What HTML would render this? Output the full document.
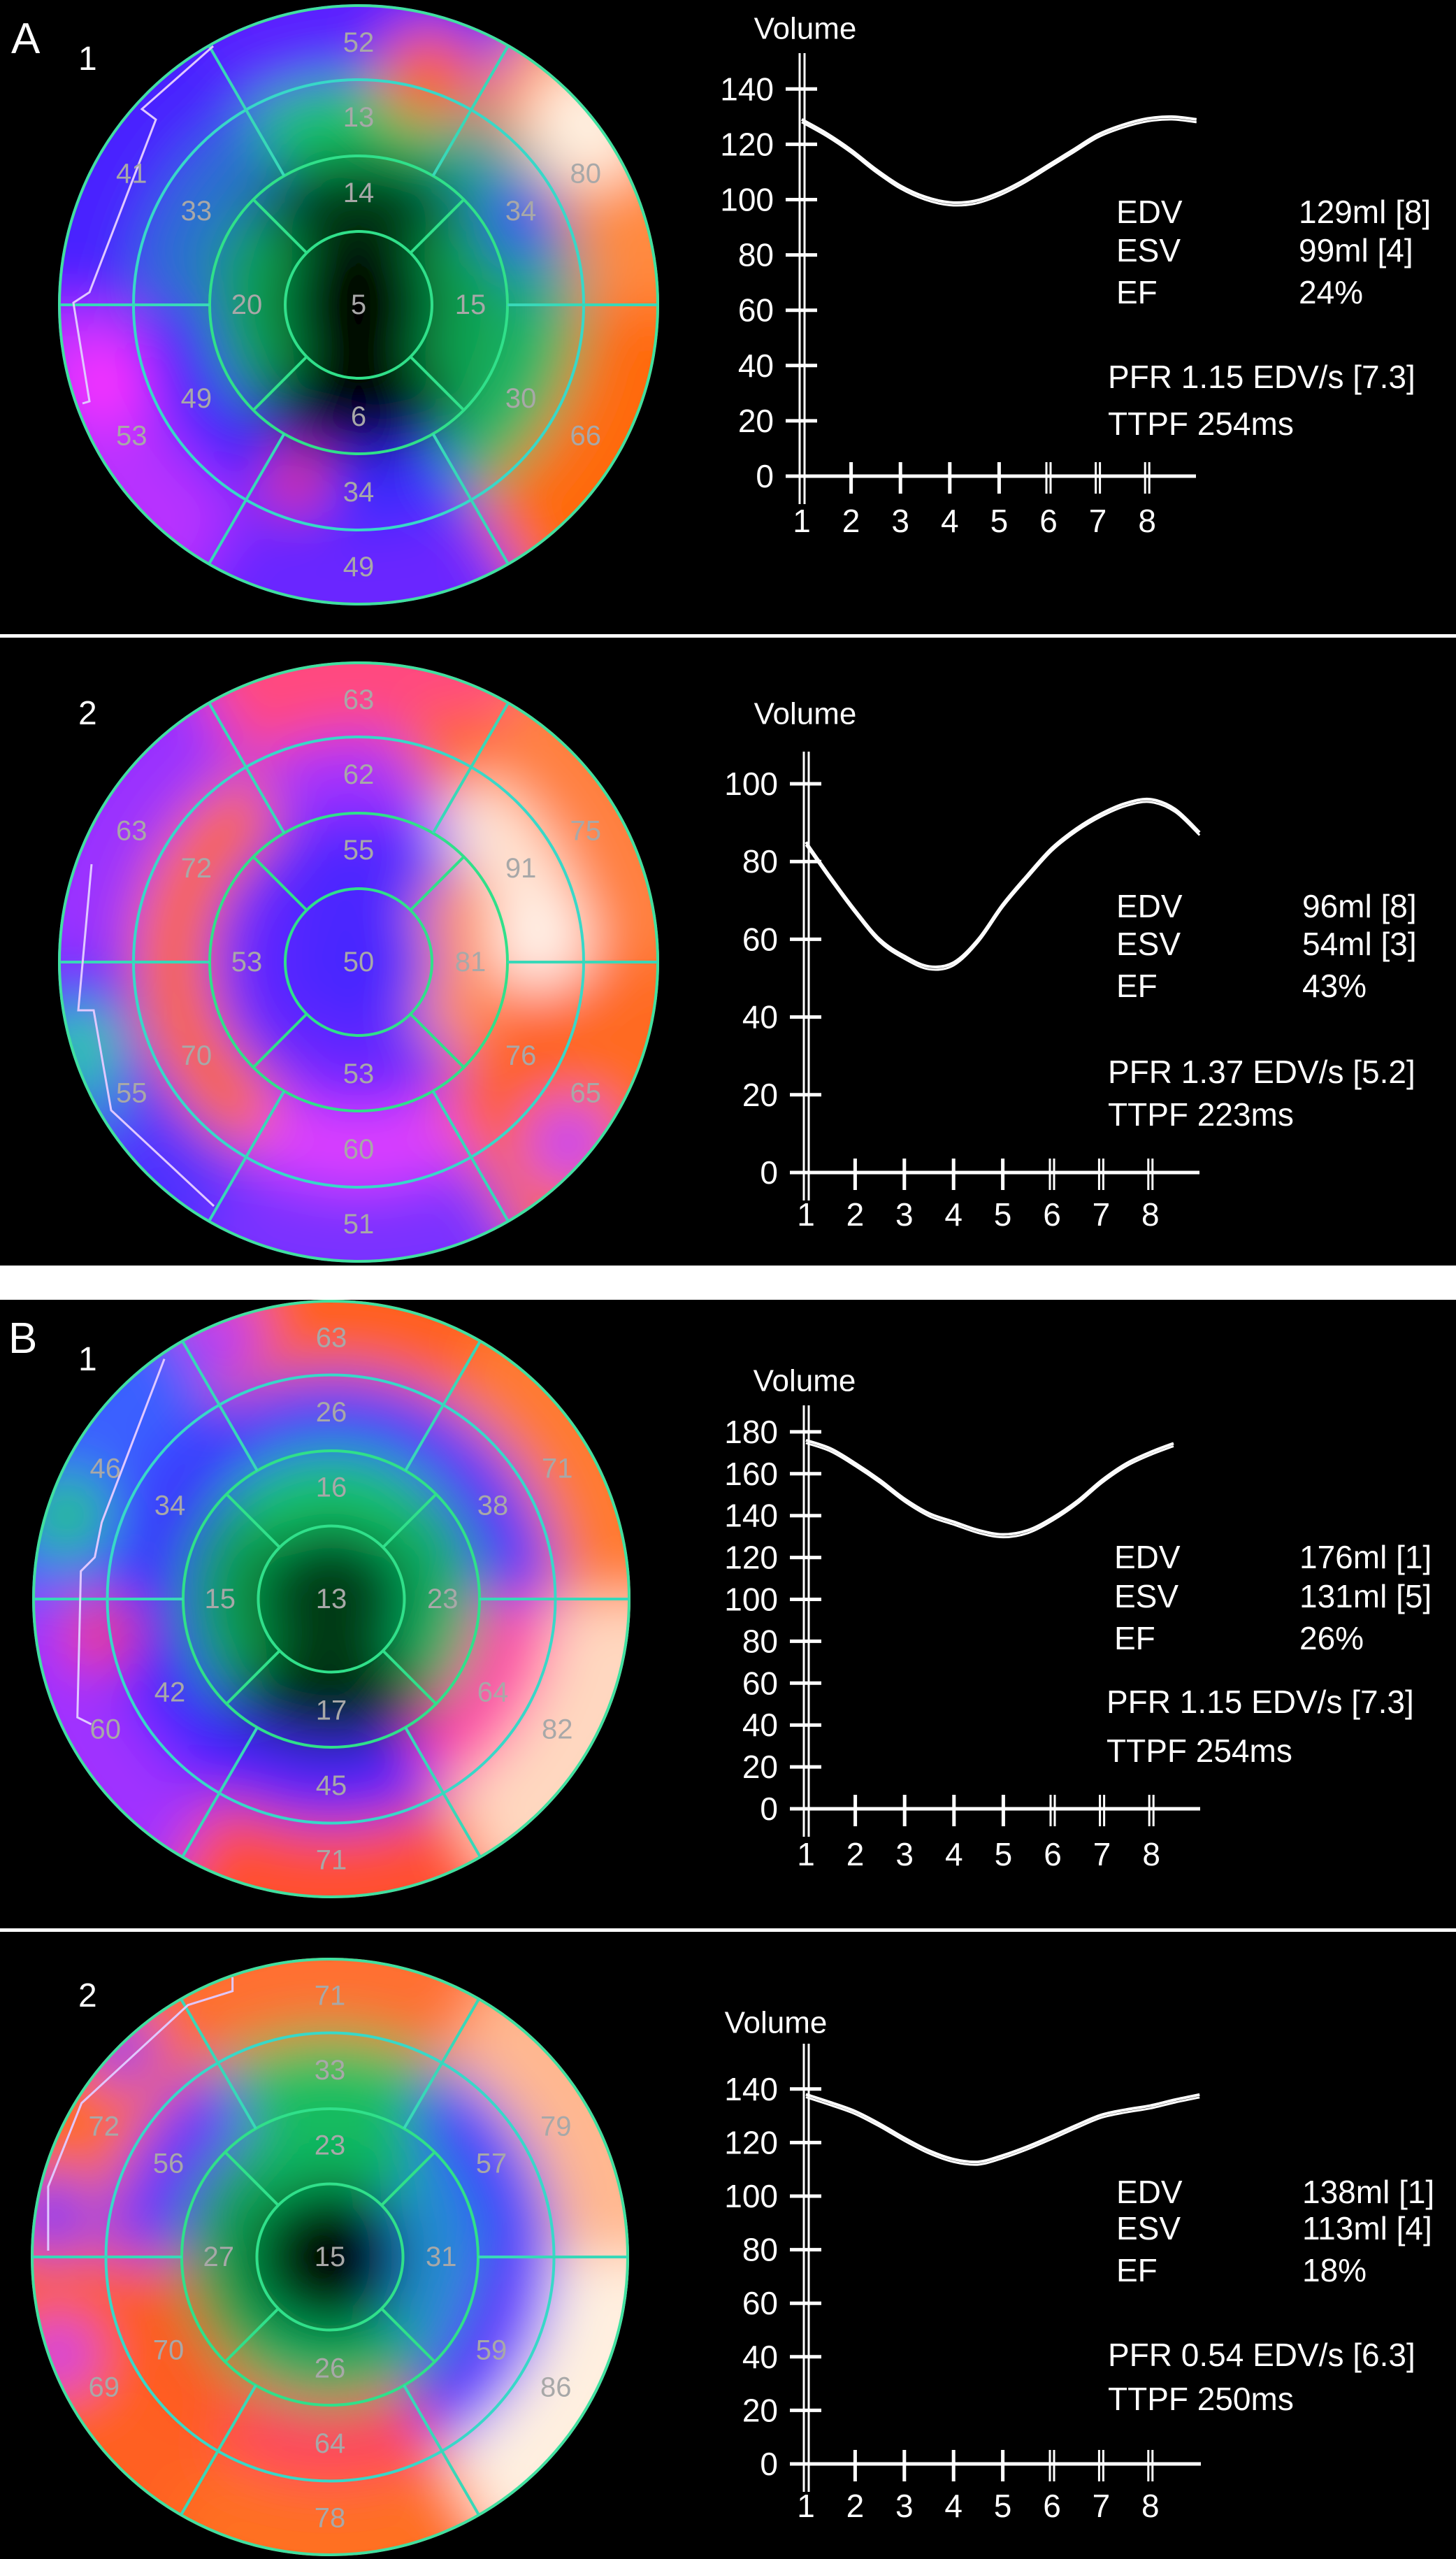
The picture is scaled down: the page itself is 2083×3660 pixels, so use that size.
<!DOCTYPE html>
<html><head><meta charset="utf-8">
<style>
html,body{margin:0;padding:0;background:#fff;}
svg{display:block;}
text{font-family:"Liberation Sans",sans-serif;}
</style></head>
<body>
<svg id="fig" xmlns="http://www.w3.org/2000/svg" width="2083" height="3660" viewBox="0 0 2083 3660">
<defs>
<filter id="blur" x="-20%" y="-20%" width="140%" height="140%"><feGaussianBlur stdDeviation="40"/></filter>
</defs>
<rect x="0" y="0" width="2083" height="907" fill="#000"/>
<rect x="0" y="912" width="2083" height="898" fill="#000"/>
<rect x="0" y="1859" width="2083" height="899" fill="#000"/>
<rect x="0" y="2763" width="2083" height="897" fill="#000"/>
<text x="16" y="76" font-size="62" fill="#fff">A</text>
<text x="112" y="100" font-size="48" fill="#fff">1</text>
<text x="112" y="1036" font-size="48" fill="#fff">2</text>
<text x="12" y="1935" font-size="62" fill="#fff">B</text>
<text x="112" y="1960" font-size="48" fill="#fff">1</text>
<text x="112" y="2870" font-size="48" fill="#fff">2</text>
<g id="content"></g>
</svg>
<script>
// ---------- chart data ----------
const a1X = [1,1.5,2,2.5,3,3.5,4,4.5,5,5.5,6,6.5,7,7.5,8,8.5,9];
const a1Vol = [129,124,118,111,105,101,99,99.5,102.5,107,112.5,118,123.5,127,129.3,130,129];
const a1YTicks = [0,20,40,60,80,100,120,140];
const a1Stats = ["129ml [8]","99ml [4]","24%"];
const a1Pfr = "PFR 1.15 EDV/s [7.3]";
const a1Ttpf = "TTPF 254ms";

const a2X = [1,1.5,2,2.5,3,3.5,4,4.5,5,5.5,6,6.5,7,7.5,8,8.5,9];
const a2Vol = [85,76,67.5,60,55.7,53,54,60,69,76.5,83.5,88.5,92.3,95,96,93.5,87.5];
const a2YTicks = [0,20,40,60,80,100];
const a2Stats = ["96ml [8]","54ml [3]","43%"];
const a2Pfr = "PFR 1.37 EDV/s [5.2]";
const a2Ttpf = "TTPF 223ms";

const b1X = [1,1.5,2,2.5,3,3.5,4,4.5,5,5.5,6,6.5,7,7.5,8,8.45];
const b1Vol = [176,172,165,157,148,141,137,133,131,133,139,147,157,165,170.5,174.5];
const b1YTicks = [0,20,40,60,80,100,120,140,160,180];
const b1Stats = ["176ml [1]","131ml [5]","26%"];
const b1Pfr = "PFR 1.15 EDV/s [7.3]";
const b1Ttpf = "TTPF 254ms";

const b2X = [1,1.5,2,2.5,3,3.5,4,4.5,5,5.5,6,6.5,7,7.5,8,8.5,9];
const b2Vol = [138,135,131.7,127,121.7,117,113.8,112.8,115.2,118.5,122.4,126.5,130.3,132.3,133.8,136,137.9];
const b2YTicks = [0,20,40,60,80,100,120,140];
const b2Stats = ["138ml [1]","113ml [4]","18%"];
const b2Pfr = "PFR 0.54 EDV/s [6.3]";
const b2Ttpf = "TTPF 250ms";

const xTickLabels = ["1","2","3","4","5","6","7","8"];
const statNames = ["EDV","ESV","EF"];

// ---------- bullseye data (outer/mid: top, UR, LR, bottom, LL, UL; apical: top,right,bottom,left) ----------
const a1Outer = ["52","80","66","49","53","41"];
const a1Mid = ["13","34","30","34","49","33"];
const a1Apical = ["14","15","6","20"];
const a1Apex = "5";
const a2Outer = ["63","75","65","51","55","63"];
const a2Mid = ["62","91","76","60","70","72"];
const a2Apical = ["55","81","53","53"];
const a2Apex = "50";
const b1Outer = ["63","71","82","71","60","46"];
const b1Mid = ["26","38","64","45","42","34"];
const b1Apical = ["16","23","17","15"];
const b1Apex = "13";
const b2Outer = ["71","79","86","78","69","72"];
const b2Mid = ["33","57","59","64","70","56"];
const b2Apical = ["23","31","26","27"];
const b2Apex = "15";

const NS = "http://www.w3.org/2000/svg";
const root = document.getElementById('content');
function mk(tag, attrs, parent){
  const e = document.createElementNS(NS, tag);
  for (const k in attrs) e.setAttribute(k, attrs[k]);
  (parent||root).appendChild(e);
  return e;
}
function rad(d){return d*Math.PI/180;}
function sector(cx,cy,r1,r2,a1,a2){
  const p=(r,a)=>[cx+r*Math.cos(rad(a)),cy+r*Math.sin(rad(a))];
  const [x1,y1]=p(r2,a1),[x2,y2]=p(r2,a2),[x3,y3]=p(r1,a2),[x4,y4]=p(r1,a1);
  const lg=(a2-a1)>180?1:0;
  return `M${x1},${y1} A${r2},${r2} 0 ${lg} 1 ${x2},${y2} L${x3},${y3} A${r1},${r1} 0 ${lg} 0 ${x4},${y4} Z`;
}

function bullseye(id, cx, cy, R, outer, mid, apical, apex, cols, blobs, marker){
  const s = R/430;
  const rA = 105*s, rB = 213*s, rC = 322*s;
  const g = mk('g',{});
  
  
  const clipId = id+'clip';
  const cp = mk('clipPath',{id:clipId}, g);
  mk('circle',{cx:cx,cy:cy,r:R}, cp);
  const cg = mk('g',{'clip-path':`url(#${clipId})`}, g);
  const bg = mk('g',{filter:'url(#blur)'}, cg);
  for (let i=0;i<6;i++){
    const a = -90+60*i;
    mk('path',{d:sector(cx,cy,rC,R+90,a-30,a+30),fill:cols.outer[i]}, bg);
    mk('path',{d:sector(cx,cy,rB,rC,a-30,a+30),fill:cols.mid[i]}, bg);
  }
  for (let i=0;i<4;i++){
    const a = -90+90*i;
    mk('path',{d:sector(cx,cy,rA,rB,a-45,a+45),fill:cols.apical[i]}, bg);
  }
  mk('circle',{cx:cx,cy:cy,r:rA,fill:cols.apex}, bg);
  blobs.forEach(b=>mk('circle',{cx:cx+b[0]*s,cy:cy+b[1]*s,r:b[2]*s,fill:b[3]}, bg));
  const lg = mk('g',{fill:'none','stroke-width':4}, g);
  mk('circle',{cx:cx,cy:cy,r:R-2,stroke:'#40e0a0'}, lg);
  mk('circle',{cx:cx,cy:cy,r:rC,stroke:'#38d8c8'}, lg);
  mk('circle',{cx:cx,cy:cy,r:rB,stroke:'#30e08a'}, lg);
  mk('circle',{cx:cx,cy:cy,r:rA,stroke:'#30e08a'}, lg);
  for (let i=0;i<6;i++){
    const a=rad(60*i);
    mk('line',{x1:cx+rB*Math.cos(a),y1:cy+rB*Math.sin(a),x2:cx+(R-2)*Math.cos(a),y2:cy+(R-2)*Math.sin(a),stroke:'#38d8b8'}, lg);
  }
  for (let i=0;i<4;i++){
    const a=rad(45+90*i);
    mk('line',{x1:cx+rA*Math.cos(a),y1:cy+rA*Math.sin(a),x2:cx+rB*Math.cos(a),y2:cy+rB*Math.sin(a),stroke:'#30e08a'}, lg);
  }
  if (marker){
    const m = mk('polyline',{points:marker.map(p=>(cx+p[0]*s)+','+(cy+p[1]*s)).join(' '),stroke:'#e0c8ff','stroke-width':3,fill:'none'}, g);
    
    
  }
  const tg = mk('g',{'font-size':Math.round(40*s),fill:'#a8a8a8','text-anchor':'middle','dominant-baseline':'central'}, g);
  function lab(txt,r,a,name){
    const t = mk('text',{x:cx+r*Math.cos(rad(a)),y:cy+r*Math.sin(rad(a))}, tg);
    
    
    t.textContent = txt;
  }
  outer.forEach((v,i)=>lab(v,375*s,-90+60*i,id+'-basal-segment-'+(i+1)));
  mid.forEach((v,i)=>lab(v,268*s,-90+60*i,id+'-mid-segment-'+(i+1)));
  apical.forEach((v,i)=>lab(v,160*s,-90+90*i,id+'-apical-segment-'+(i+1)));
  lab(apex,0,0,id+'-apex-segment');
}

function volChart(id, cfg, xs, vals, yTicks, stats, pfr, ttpf){
  const g = mk('g',{stroke:'#fff',fill:'#fff'});
  
  
  const X = v => cfg.ax + (v-1)*cfg.xs;
  const Y = v => cfg.y0 - v*cfg.ys;
  mk('line',{x1:cfg.ax-3,y1:cfg.top,x2:cfg.ax-3,y2:cfg.y0+40,'stroke-width':3}, g);
  mk('line',{x1:cfg.ax+4,y1:cfg.top,x2:cfg.ax+4,y2:cfg.y0+40,'stroke-width':3}, g);
  mk('line',{x1:cfg.ax-22,y1:cfg.y0,x2:cfg.xend,y2:cfg.y0,'stroke-width':5}, g);
  const tg = mk('g',{stroke:'none','font-size':46}, g);
  yTicks.forEach(v=>{
    const tk = mk('line',{x1:cfg.ax-23,y1:Y(v),x2:cfg.ax+22,y2:Y(v),'stroke-width':5}, g);
    
    
    const t = mk('text',{x:cfg.ax-40,y:Y(v),'text-anchor':'end','dominant-baseline':'central'}, tg);
    
    
    t.textContent = v;
  });
  xTickLabels.forEach((lbl,i)=>{
    const x = X(i+1);
    if (i>0){
      if (i>=5){
        mk('line',{x1:x-3,y1:cfg.y0-20,x2:x-3,y2:cfg.y0+25,'stroke-width':3}, g);
        mk('line',{x1:x+3,y1:cfg.y0-20,x2:x+3,y2:cfg.y0+25,'stroke-width':3}, g);
      } else {
        mk('line',{x1:x,y1:cfg.y0-20,x2:x,y2:cfg.y0+25,'stroke-width':5}, g);
      }
    }
    const t = mk('text',{x:x,y:cfg.tly,'text-anchor':'middle','dominant-baseline':'central'}, tg);
    
    
    t.textContent = lbl;
  });
  const vl = mk('text',{x:cfg.vx,y:cfg.vy,'text-anchor':'middle','dominant-baseline':'central','font-size':44}, tg);
  
  
  vl.textContent = 'Volume';
  const pts = xs.map((x,i)=>[X(x),Y(vals[i])]);
  let d = 'M'+pts[0][0]+','+pts[0][1];
  for (let i=1;i<pts.length;i++){
    const p0=pts[Math.max(0,i-2)],p1=pts[i-1],p2=pts[i],p3=pts[Math.min(pts.length-1,i+1)];
    const c1=[p1[0]+(p2[0]-p0[0])/6,p1[1]+(p2[1]-p0[1])/6];
    const c2=[p2[0]-(p3[0]-p1[0])/6,p2[1]-(p3[1]-p1[1])/6];
    d+=` C${c1[0]},${c1[1]} ${c2[0]},${c2[1]} ${p2[0]},${p2[1]}`;
  }
  const c1 = mk('path',{d:d,fill:'none','stroke-width':4}, g);
  
  
  const c2 = mk('path',{d:d,fill:'none','stroke-width':3,transform:'translate(0,4)'}, g);
  
  
  statNames.forEach((n,i)=>{
    const t1 = mk('text',{x:cfg.sx,y:cfg.sy[i],'dominant-baseline':'central'}, tg);
    
    
    t1.textContent = n;
    const t2 = mk('text',{x:cfg.vx2,y:cfg.sy[i],'dominant-baseline':'central'}, tg);
    
    
    t2.textContent = stats[i];
  });
  const tp = mk('text',{x:cfg.px,y:cfg.py,'dominant-baseline':'central'}, tg);
  
  
  tp.textContent = pfr;
  const tt = mk('text',{x:cfg.px,y:cfg.ty,'dominant-baseline':'central'}, tg);
  
  
  tt.textContent = ttpf;
}

// ---------- bullseyes ----------
bullseye('a1',513,436,430,a1Outer,a1Mid,a1Apical,a1Apex,{
  outer:['#5a22ff','#ff8a40','#ff6a10','#6a28ff','#b830ff','#4a22ff'],
  mid:['#12c468','#20a0a0','#20b868','#3a2cff','#4222ff','#2a70d0'],
  apical:['#063a14','#10a050','#000000','#10a050'],apex:'#000000'},
  [[330,-260,90,'#fff0e0'],[-90,255,40,'#ff3a20'],[100,-330,70,'#ff6020'],[-360,110,60,'#ff30ff'],[230,-120,50,'#3a30ff']],
  [[-208,-370],[-310,-280],[-290,-265],[-385,-18],[-408,-3],[-385,138],[-395,141]]);
bullseye('a2',513,1376,430,a2Outer,a2Mid,a2Apical,a2Apex,{
  outer:['#ff4a80','#ff8040','#ff6a20','#7a30ff','#5030ff','#9a30ff'],
  mid:['#a030ff','#ffe8d8','#ff6020','#e040ff','#ff6a10','#ff6a20'],
  apical:['#5028ff','#ff9060','#6a28ff','#6028ff'],apex:'#4a28ff'},
  [[-400,120,55,'#20d890'],[-380,200,40,'#20a0c0'],[260,-30,70,'#fff4ec'],[130,-300,60,'#ff6a10'],[300,260,60,'#c040ff']],
  [[-382,-140],[-401,69],[-379,69],[-354,212],[-207,349]]);
bullseye('b1',474,2287,428,b1Outer,b1Mid,b1Apical,b1Apex,{
  outer:['#ff6020','#ff7a30','#ffd8c0','#ff5030','#a030ff','#3a60ff'],
  mid:['#3a40ff','#4a30ff','#ff40a8','#4a22ff','#3a20ff','#3a30ff'],
  apical:['#12c468','#10b060','#052a10','#10a050'],apex:'#063a15'},
  [[-380,-120,60,'#20c870'],[-160,-380,60,'#b030ff'],[-330,50,50,'#ff4040']],
  [[-240,-345],[-330,-110],[-340,-60],[-360,-40],[-365,170],[-345,180]]);
bullseye('b2',472,3228,428,b2Outer,b2Mid,b2Apical,b2Apex,{
  outer:['#ff7030','#ffb890','#fff0e0','#ff7020','#ff6020','#ff6a20'],
  mid:['#20c060','#3a40ff','#5a28ff','#ff4060','#ff5a20','#6030ff'],
  apical:['#10b860','#2090d0','#10b060','#10a050'],apex:'#000000'},
  [[-400,-60,60,'#7030ff'],[-390,140,50,'#c030ff'],[-300,-300,50,'#7a30ff']],
  [[-140,-402],[-140,-382],[-204,-362],[-357,-221],[-405,-101],[-405,-9]]);

// ---------- volume charts ----------
volChart('a1',{ax:1147,y0:681,ys:3.955,xs:70.6,top:76,xend:1711,tly:745,vx:1152,vy:41,sx:1597,vx2:1858,sy:[303,358,418],px:1585,py:539,ty:606},a1X,a1Vol,a1YTicks,a1Stats,a1Pfr,a1Ttpf);
volChart('a2',{ax:1153,y0:1677,ys:5.56,xs:70.4,top:1075,xend:1716,tly:1737,vx:1152,vy:1021,sx:1597,vx2:1863,sy:[1296,1350,1410],px:1585,py:1533,ty:1594},a2X,a2Vol,a2YTicks,a2Stats,a2Pfr,a2Ttpf);
volChart('b1',{ax:1153,y0:2587,ys:2.995,xs:70.6,top:2010,xend:1717,tly:2652,vx:1151,vy:1975,sx:1594,vx2:1859,sy:[2227,2283,2343],px:1583,py:2434,ty:2504},b1X,b1Vol,b1YTicks,b1Stats,b1Pfr,b1Ttpf);
volChart('b2',{ax:1153,y0:3524,ys:3.83,xs:70.4,top:2923,xend:1718,tly:3584,vx:1110,vy:2893,sx:1597,vx2:1863,sy:[3135,3187,3247],px:1585,py:3368,ty:3431},b2X,b2Vol,b2YTicks,b2Stats,b2Pfr,b2Ttpf);
</script>
</body></html>
